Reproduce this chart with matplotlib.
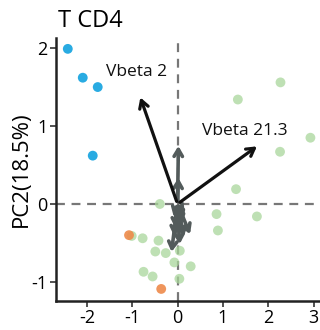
import matplotlib
matplotlib.use("Agg")
import matplotlib.pyplot as plt

plt.rcParams['font.family'] = ['Open Sans', 'DejaVu Sans']
plt.rcParams['axes.unicode_minus'] = False

title = "T CD4"
ylabel = "PC2(18.5%)"

blue_x = [-2.42, -2.09, -1.76, -1.87]
blue_y = [1.99, 1.62, 1.50, 0.62]

green_x = [1.33, 2.27, 2.93, 2.26, 1.29, -0.39, 0.86, 1.75, 0.89, -1.01, -0.77,
           -0.42, -0.49, -0.26, 0.05, -0.07, 0.29, -0.75, -0.55, 0.04]
green_y = [1.34, 1.56, 0.85, 0.67, 0.19, 0.00, -0.13, -0.16, -0.34, -0.41, -0.44,
           -0.47, -0.61, -0.63, -0.60, -0.75, -0.80, -0.87, -0.93, -0.96]

orange_x = [-1.07, -0.36]
orange_y = [-0.40, -1.09]

vec_names = ["Vbeta 2", "Vbeta 21.3"]
vec_x = [-0.84, 1.80]
vec_y = [1.40, 0.76]
label_x = [-1.58, 0.55]
label_y = [1.69, 0.93]

gray_x = [0.02, 0.02, -0.14, 0.30, 0.15, -0.05, 0.10, -0.10, 0.20, 0.05, -0.08, 0.12]
gray_y = [0.78, 0.37, -0.65, -0.42, -0.45, -0.35, -0.30, -0.20, -0.15, -0.55, -0.45, -0.25]

xticks = [-2, -1, 0, 1, 2, 3]
yticks = [-1, 0, 1, 2]

fig = plt.figure(figsize=(3.2, 3.3), dpi=100)
ax = fig.add_axes([0.175, 0.089, 0.822, 0.796])

ax.axhline(0, color='#777777', lw=1.6, ls=(0, (4, 3)), zorder=1)
ax.axvline(0, color='#777777', lw=1.6, ls=(0, (4, 3)), zorder=1)

ax.scatter(green_x, green_y, s=50, color='#A9D69B', alpha=0.75, edgecolors='none', zorder=2)
ax.scatter(orange_x, orange_y, s=50, color='#EE8A4A', alpha=0.9, edgecolors='none', zorder=2)
ax.scatter(blue_x, blue_y, s=50, color='#29ABE2', edgecolors='none', zorder=3)

for gx, gy in zip(gray_x, gray_y):
    ax.annotate("", xy=(gx, gy), xytext=(0, 0),
                arrowprops=dict(arrowstyle='->,head_length=0.5,head_width=0.3',
                                color='#535B5B', lw=2.6), zorder=4)

for name, vx, vy, lx, ly in zip(vec_names, vec_x, vec_y, label_x, label_y):
    ax.annotate("", xy=(vx, vy), xytext=(0, 0),
                arrowprops=dict(arrowstyle='->,head_length=0.55,head_width=0.32',
                                color='#111111', lw=2.3), zorder=5)
    ax.text(lx, ly, name, fontsize=12.5, va='center', ha='left', color='#111111', zorder=6)

ax.set_xlim(-2.68, 3.12)
ax.set_ylim(-1.24, 2.13)
ax.set_xticks(xticks)
ax.set_yticks(yticks)
ax.set_xticklabels([str(t) for t in xticks])
ax.set_yticklabels([str(t) for t in yticks])
ax.tick_params(labelsize=13, length=4, width=1.2, color='#333333', pad=2)

for s in ['top', 'right']:
    ax.spines[s].set_visible(False)
for s in ['left', 'bottom']:
    ax.spines[s].set_linewidth(1.8)
    ax.spines[s].set_color('#222222')

ax.set_ylabel(ylabel, fontsize=16, labelpad=0)
fig.text(0.18, 0.935, title, fontsize=17, ha='left', va='center')

fig.savefig("out.png", dpi=100)
